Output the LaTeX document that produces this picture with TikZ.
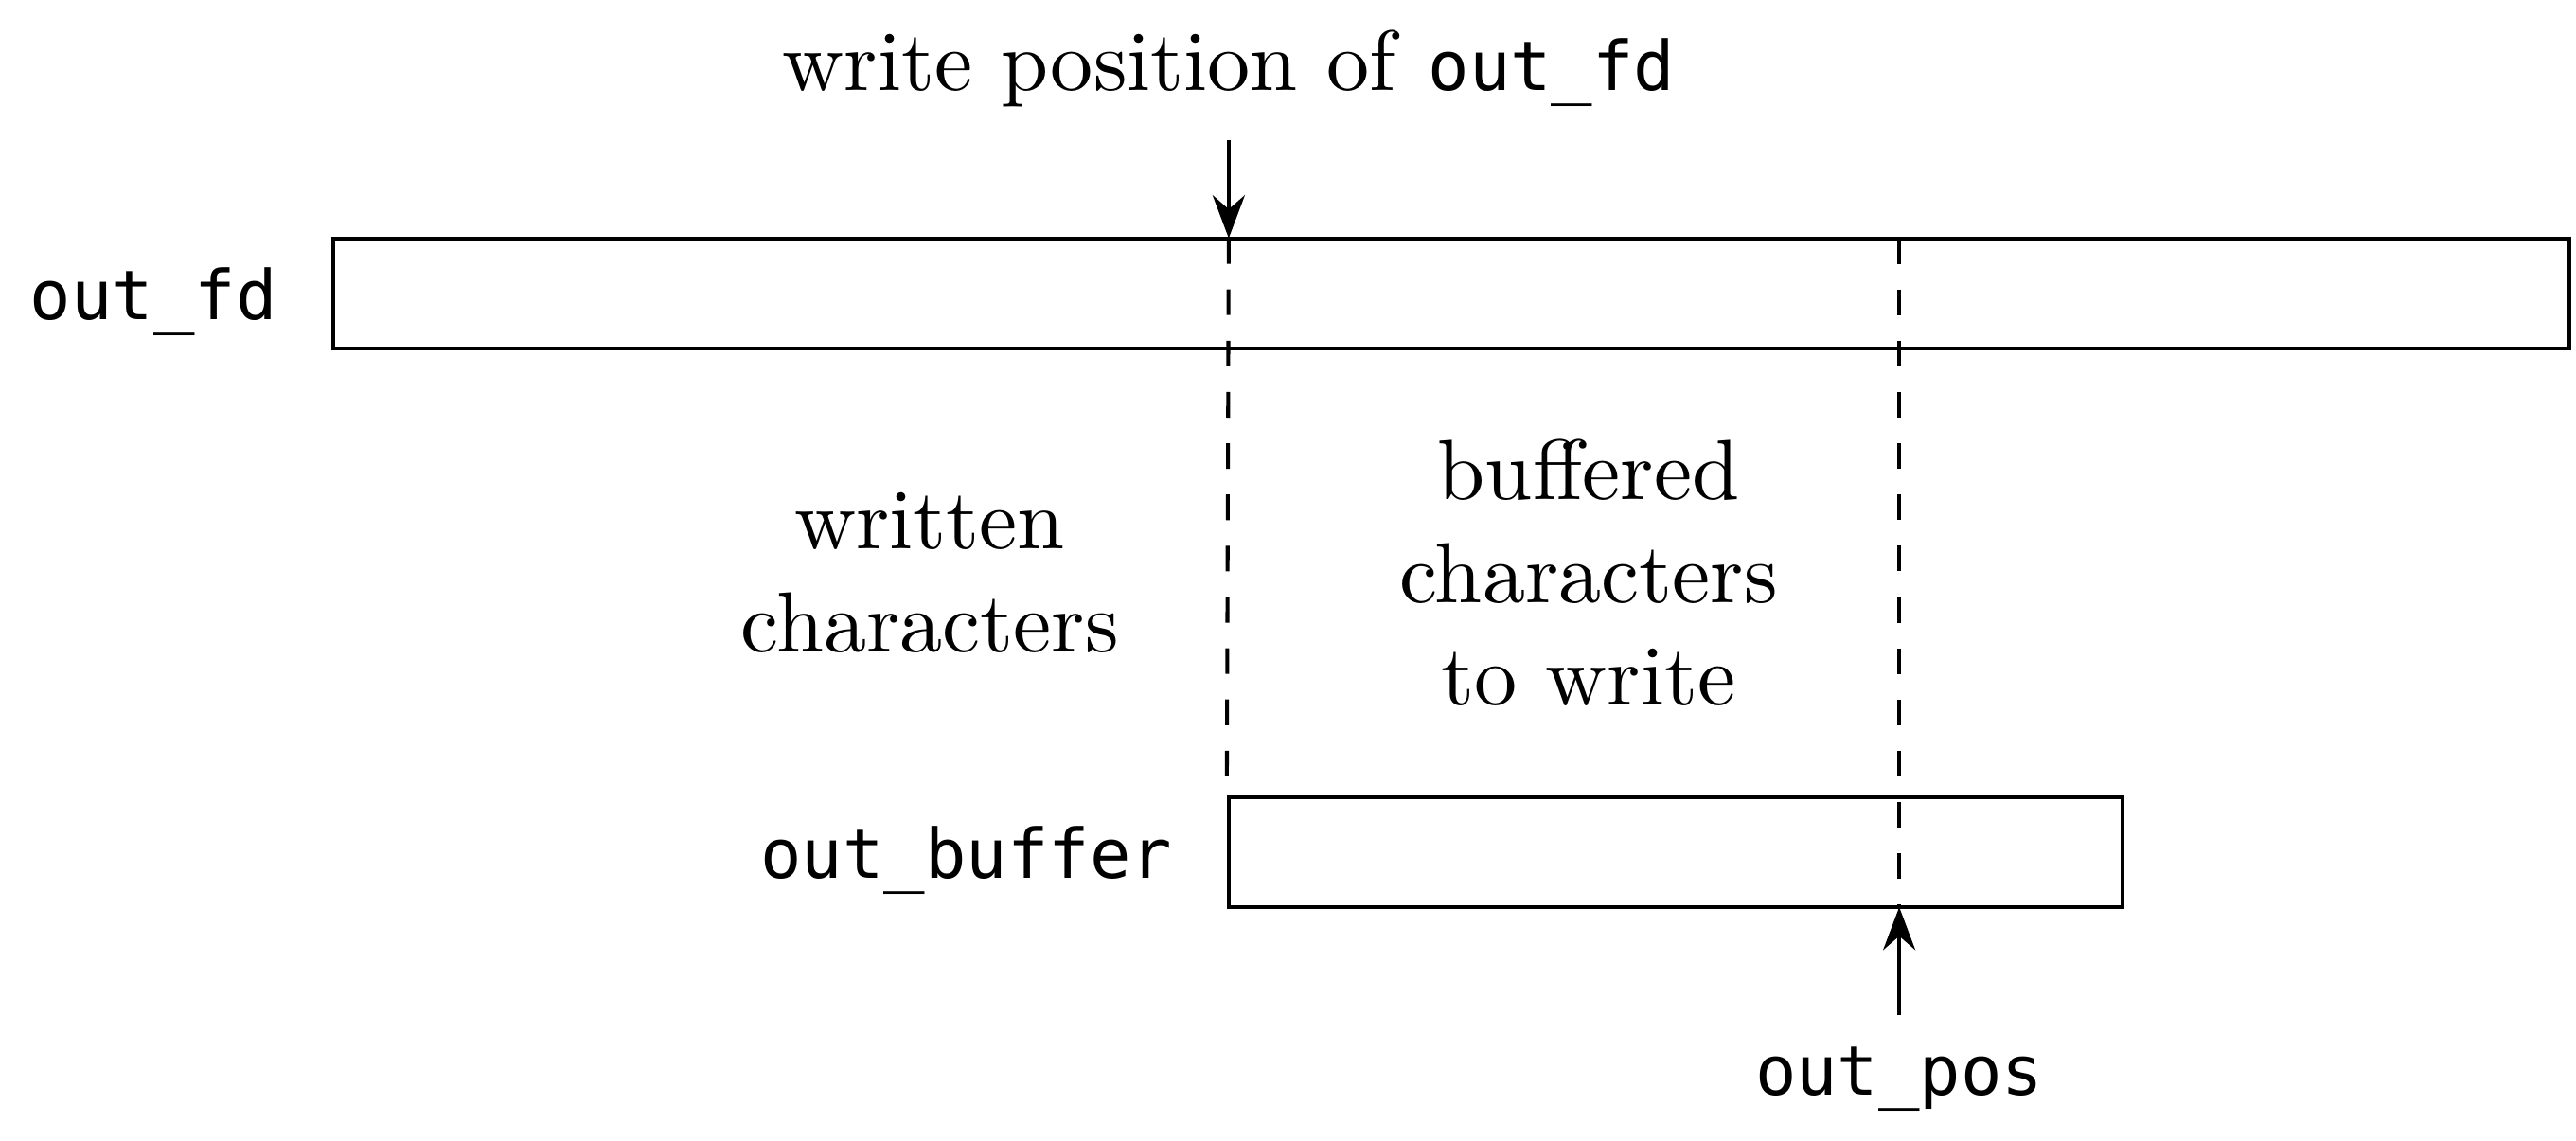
\documentclass[tikz,border=0pt]{standalone}
\usepackage{fontspec}
\setmonofont[Scale=0.8]{DejaVu Sans Mono}
\usepackage{tikz}
\usetikzlibrary{positioning,arrows.meta}
\tikzset{
    every node/.style={font=\normalsize},
    fdbox/.style={draw,minimum width=9.201cm,minimum height=0.453cm,inner sep=0pt},
    bufbox/.style={draw,minimum width=3.678cm,minimum height=0.453cm,inner sep=0pt},
    varname/.style={font=\ttfamily,text depth=0pt},
    region/.style={align=center},
    marker/.style={dashed},
    pointer/.style={->,>=Stealth}
}
\begin{document}
\begin{tikzpicture}[node distance=1mm,line width=0.45pt]
    \useasboundingbox (0,0) rectangle (10.60,-4.691);
    \node[fdbox] (fd) at (5.973,-1.207) {};
    \node[bufbox] (buf) at (6.895,-3.505) {};
    \node[varname,left=of fd] (fdname) {out\_fd};
    \node[varname,left=of buf] (bufname) {out\_buffer};
    \coordinate (wpos) at (5.056,-0.980);
    \coordinate (wtop) at (5.056,-0.575);
    \coordinate (ptop) at (7.815,-0.980);
    \coordinate (pos) at (7.815,-3.732);
    \coordinate (pbot) at (7.815,-4.178);
    \node (wlabel) at (5.056,-0.284) {write position of \texttt{out\_fd}};
    \node[varname] (poslabel) at (7.815,-4.408) {out\_pos};
    \node[region] (written) at (3.826,-2.356) {written\\characters};
    \node[region] (buffered) at (6.537,-2.356) {buffered\\characters\\to write};
    \draw[marker] (wpos) -- (buf.north west);
    \draw[marker] (ptop) -- (pos);
    \draw[pointer] (wtop) -- (wpos);
    \draw[pointer] (pbot) -- (pos);
\end{tikzpicture}
\end{document}
